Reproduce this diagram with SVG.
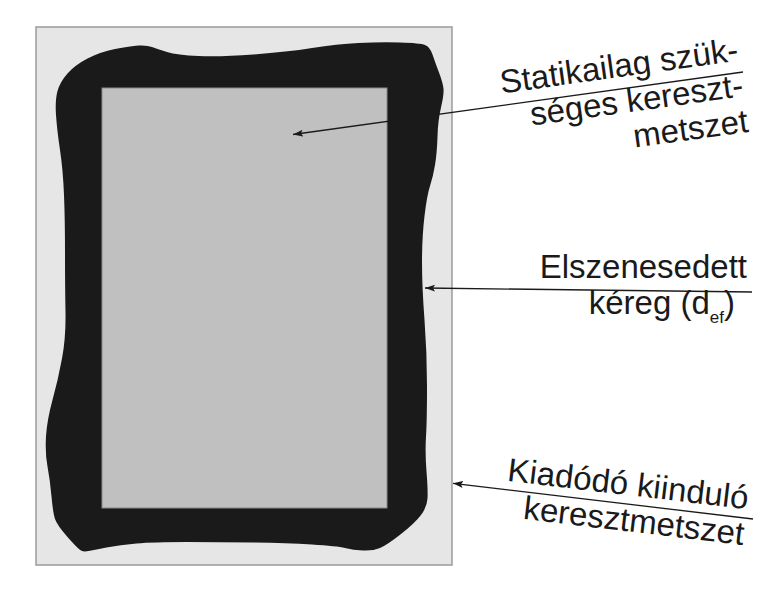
<svg xmlns="http://www.w3.org/2000/svg" width="780" height="614" viewBox="0 0 780 614">
<defs>
<style>
.lbl{font-family:"Liberation Sans",Arial,sans-serif;font-size:33px;fill:#1a1a1a}
.conn{stroke:#1a1a1a;stroke-width:1.3;fill:none;marker-end:url(#arr)}
</style>
<marker id="arr" markerUnits="userSpaceOnUse" markerWidth="11" markerHeight="8" refX="10" refY="3.5" orient="auto">
<path d="M0,0 L10,3.5 L0,7 L2,3.5 z" fill="#1a1a1a"/>
</marker>
</defs>
<rect x="0" y="0" width="780" height="614" fill="#ffffff"/>
<g id="section">
<rect x="36" y="27" width="416" height="538" fill="#e6e6e6" stroke="#9a9a9a" stroke-width="1.5"/>
<path fill="#1a1a1a" d="M56,115 Q55,100 57.5,91 Q60,82 67.5,73.5 Q75,65 87.5,58.5 Q100,52 115,49 Q130,46 138.5,45.5 Q147,45 152,47 Q157,49 167,52 Q177,55 198.5,56 Q220,57 253.5,54.5 Q287,52 312,48 Q337,44 358.5,43 Q380,42 400,42.5 Q420,43 425,45 Q430,47 432.5,54.5 Q435,62 439,72.5 Q443,83 443.5,89 Q444,95 441,107.5 Q438,120 437.5,136.5 Q437,153 435,165 Q433,177 430,186 Q427,195 424.5,216 Q422,237 422,262 Q422,287 424.5,320 Q427,353 427,386.5 Q427,420 426,436.5 Q425,453 426.5,471.5 Q428,490 427.5,498.5 Q427,507 421,515 Q415,523 401,534 Q387,545 380,548 Q373,551 363,550.5 Q353,550 345,548 Q337,546 312,544.5 Q287,543 253.5,542.5 Q220,542 186.5,542 Q153,542 136.5,543.5 Q120,545 106.5,547.5 Q93,550 88.5,551 Q84,552 81,550.5 Q78,549 67.5,537 Q57,525 55,519 Q53,513 51.5,496.5 Q50,480 47.5,466.5 Q45,453 46,436.5 Q47,420 52.5,400 Q58,380 62,358.5 Q66,337 65.5,312 Q65,287 65,253.5 Q65,220 64,195 Q63,170 60,150 Q57,130 56,115 Z"/>
<rect x="102" y="88" width="285" height="420" fill="#c0c0c0" stroke="#8a8a8a" stroke-width="1"/>
</g>
<g id="connectors">
<line class="conn" x1="743" y1="72" x2="293" y2="134.5"/>
<line class="conn" x1="752" y1="292" x2="425" y2="288"/>
<line class="conn" x1="753" y1="519" x2="453" y2="483.3"/>
</g>
<g id="label-statikailag" transform="rotate(-7.9 743 72)">
<text class="lbl" text-anchor="end" x="741" y="60">Statikailag szük-</text>
<text class="lbl" text-anchor="end" x="741" y="96">séges kereszt-</text>
<text class="lbl" text-anchor="end" x="741" y="132">metszet</text>
</g>
<g id="label-elszenesedett">
<text class="lbl" text-anchor="end" x="747" y="278">Elszenesedett</text>
<text class="lbl" text-anchor="end" x="735" y="314">kéreg (d<tspan font-size="17" dy="9">ef</tspan><tspan dy="-9">)</tspan></text>
</g>
<g id="label-kiadodo" transform="rotate(6.77 753 519)">
<text class="lbl" text-anchor="end" x="746" y="510">Kiadódó kiinduló</text>
<text class="lbl" text-anchor="end" x="746" y="546">keresztmetszet</text>
</g>
</svg>
